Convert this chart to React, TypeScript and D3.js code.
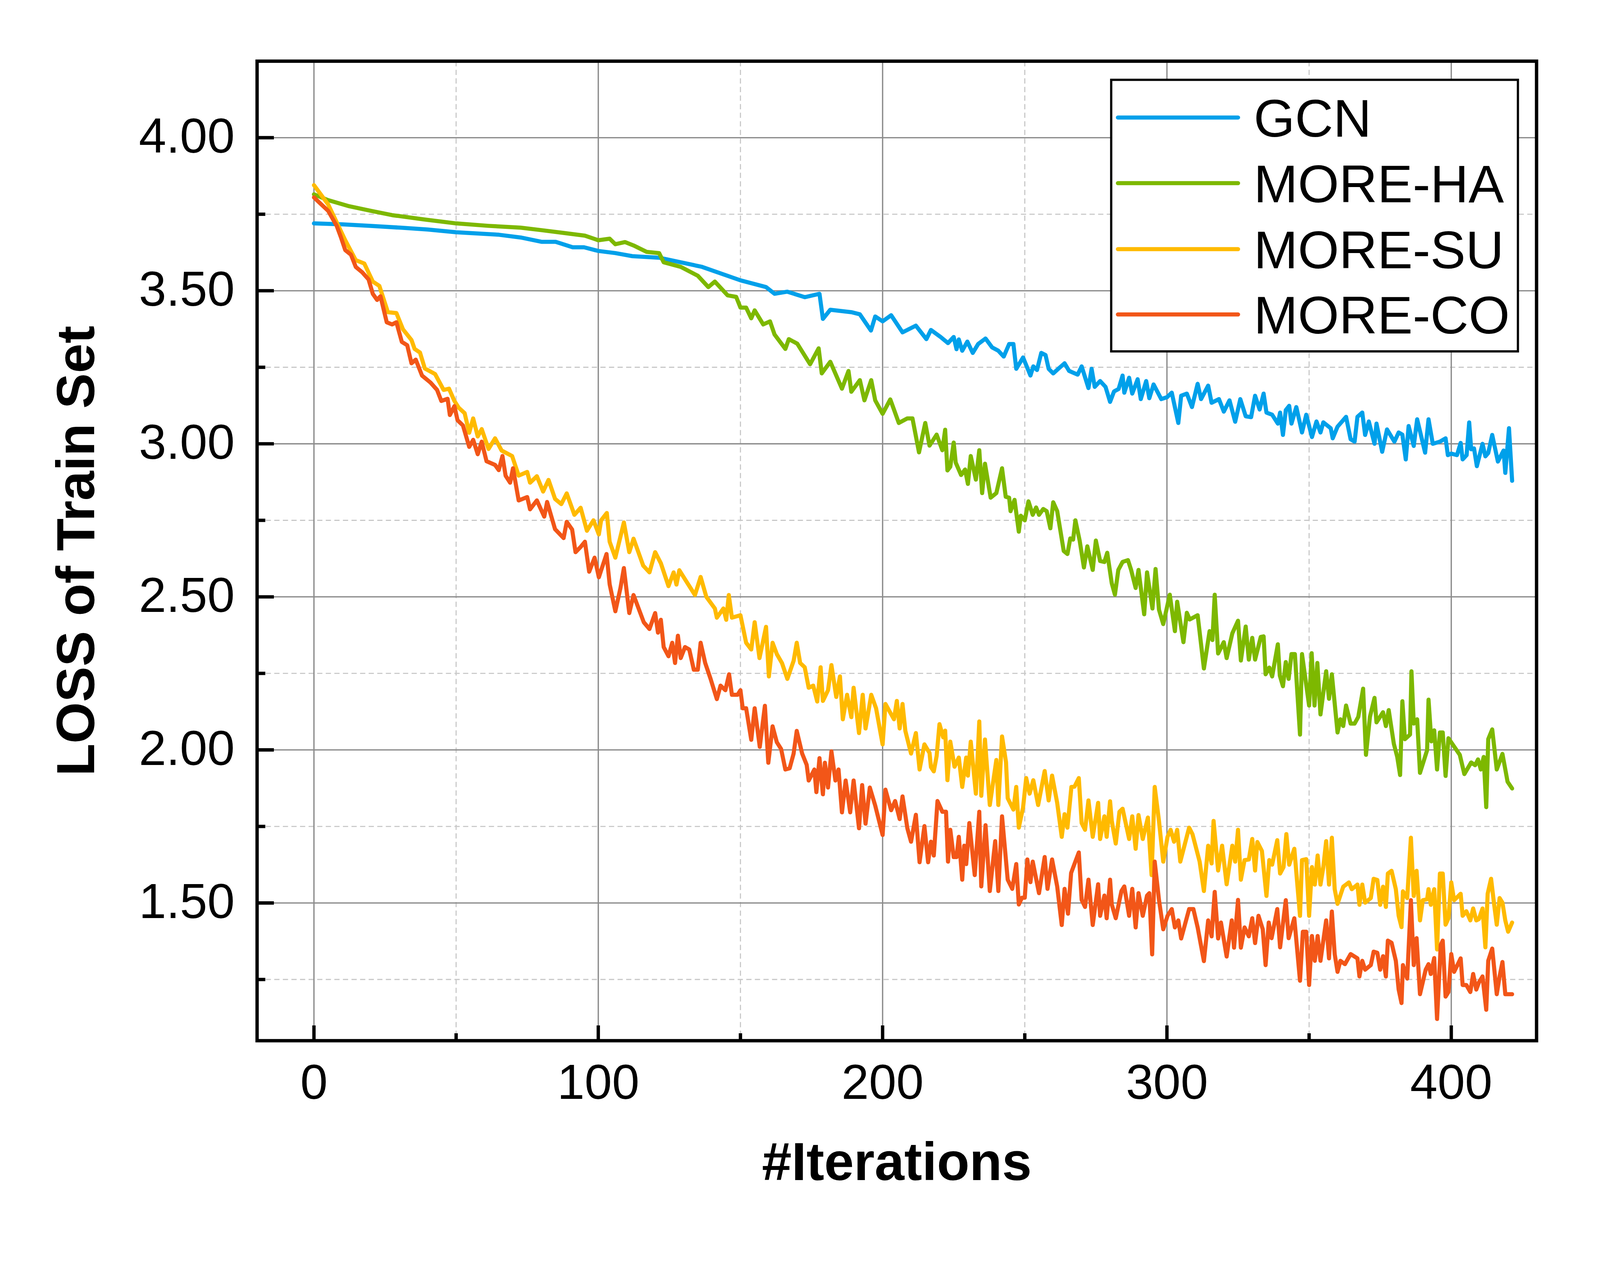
import React, { useEffect } from 'react';
import * as d3 from 'd3';

// ---------- DATA ----------
const seriesNames = ['GCN', 'MORE-HA', 'MORE-SU', 'MORE-CO'];
const seriesColors = ['#00A0EA', '#7DB800', '#FFBA00', '#F25618'];

const xMajorTicks = [0, 100, 200, 300, 400];
const xMinorTicks = [50, 150, 250, 350];
const yMajorTicks = [1.5, 2.0, 2.5, 3.0, 3.5, 4.0];
const yMinorTicks = [1.25, 1.75, 2.25, 2.75, 3.25, 3.75];

const gcn: [number, number][] = [
  [0, 3.72], [10, 3.717], [20, 3.712], [30.5, 3.706], [40, 3.7], [50, 3.691], [65, 3.683], [72.7, 3.674],
  [80, 3.66], [85, 3.66], [91, 3.642], [95, 3.642], [100, 3.63], [106, 3.623], [112, 3.613], [121.4, 3.608],
  [136.5, 3.578], [150, 3.534], [159, 3.512], [162, 3.49], [166.5, 3.497], [172.6, 3.479], [177.8, 3.49],
  [179, 3.408], [181.6, 3.438], [189, 3.43], [192, 3.423], [195.9, 3.37], [197.4, 3.416], [200, 3.4],
  [203, 3.42], [207, 3.364], [211.7, 3.386], [215.4, 3.342], [217, 3.372], [220.4, 3.349], [223, 3.329],
  [225, 3.349], [226, 3.309], [226.8, 3.341], [228, 3.304], [229.8, 3.334], [231.7, 3.297], [233.6, 3.326],
  [236.2, 3.344], [238.5, 3.315], [240.7, 3.304], [242.6, 3.285], [244.5, 3.326], [246, 3.326], [247, 3.245],
  [249.4, 3.282], [252, 3.223], [253, 3.253], [254.3, 3.241], [255.8, 3.297], [257.3, 3.29], [258.4, 3.245],
  [260, 3.23], [261.8, 3.245], [264, 3.263], [265.6, 3.238], [268.6, 3.226], [270, 3.253], [272.4, 3.182],
  [273.5, 3.245], [274.6, 3.186], [276.5, 3.205], [278.4, 3.186], [280, 3.137], [281.4, 3.171], [283, 3.179],
  [284.4, 3.223], [285, 3.167], [286.7, 3.216], [287.8, 3.164], [289.7, 3.211], [290.8, 3.146], [292.7, 3.205],
  [293.8, 3.149], [295.3, 3.194], [298, 3.146], [300, 3.152], [301.7, 3.167], [304, 3.068], [305, 3.157],
  [307, 3.164], [308.8, 3.12], [310.8, 3.196], [312, 3.146], [314.5, 3.19], [315.7, 3.134], [318.3, 3.146],
  [320, 3.105], [322, 3.142], [324, 3.072], [325.8, 3.146], [327.7, 3.09], [329.6, 3.087], [331, 3.157],
  [332.6, 3.112], [334, 3.164], [335, 3.102], [337, 3.095], [339, 3.066], [339.8, 3.102], [340.8, 3.029],
  [341.8, 3.11], [343, 3.124], [343.8, 3.066], [345.5, 3.12], [347.5, 3.037], [349, 3.095], [351, 3.022],
  [352.6, 3.073], [354, 3.037], [355, 3.07], [357.6, 3.051], [358.3, 3.018], [360, 3.056], [363, 3.088],
  [364.6, 3.015], [366, 3.007], [367, 3.088], [368.7, 3.102], [369.7, 3.029], [371, 3.073], [373, 3.0],
  [373.7, 3.066], [375.7, 2.974], [377.4, 3.047], [380, 3.007], [381.5, 3.037], [382.8, 3.03], [384, 2.949],
  [385, 3.058], [386.8, 2.993], [388, 3.08], [390.8, 2.971], [392, 3.08], [393.5, 3.0], [396, 3.007],
  [398, 3.018], [398.8, 2.963], [400, 2.968], [402, 2.963], [403.3, 3.003], [404, 2.949], [405.4, 2.963],
  [406.3, 3.07], [407, 2.982], [408, 2.985], [409, 2.927], [411, 3.0], [412, 2.959], [413, 2.97],
  [414.4, 3.029], [416.4, 2.942], [418.4, 2.978], [419, 2.905], [420.3, 3.051], [421.4, 2.879],
];

const moreHA: [number, number][] = [
  [0, 3.815], [5, 3.796], [12.4, 3.776], [20, 3.761], [27.5, 3.747], [38.8, 3.733], [50, 3.72], [61.4, 3.712],
  [72.7, 3.706], [80, 3.698], [87.8, 3.689], [95.3, 3.68], [100, 3.665], [104, 3.67], [106, 3.652],
  [109.4, 3.659], [112.4, 3.648], [117, 3.627], [121.4, 3.623], [123, 3.593], [129, 3.578], [135, 3.549],
  [138.7, 3.512], [141, 3.53], [145.5, 3.485], [148.5, 3.48], [150, 3.445], [152, 3.445], [153.8, 3.41],
  [155, 3.436], [158, 3.39], [160.4, 3.4], [162, 3.357], [165.8, 3.31], [167, 3.342], [170, 3.327],
  [174.5, 3.26], [177.5, 3.312], [178.6, 3.23], [181.6, 3.268], [185.7, 3.18], [188, 3.238], [189, 3.17],
  [192, 3.208], [193.6, 3.142], [196, 3.208], [197.4, 3.142], [200, 3.098], [202.7, 3.145], [205.7, 3.068],
  [208.7, 3.083], [210.5, 3.083], [212.8, 2.972], [215, 3.068], [216.5, 2.994], [219, 3.03], [221, 2.979],
  [222, 3.046], [222.8, 2.913], [223.8, 2.925], [225, 3.004], [225.7, 2.939], [227.6, 2.898], [229, 2.916],
  [230, 2.869], [231, 2.96], [232.8, 2.883], [234, 2.979], [235, 2.839], [236, 2.935], [238, 2.824],
  [240, 2.839], [242, 2.92], [243.3, 2.827], [244.5, 2.824], [245, 2.78], [246.4, 2.817], [247.9, 2.713],
  [248.6, 2.765], [250, 2.75], [251.3, 2.812], [252.8, 2.768], [254, 2.792], [255, 2.768], [256.5, 2.787],
  [257.7, 2.78], [259, 2.724], [260, 2.809], [261.4, 2.78], [263.7, 2.65], [265, 2.64], [266, 2.691],
  [267, 2.687], [267.8, 2.75], [269.3, 2.684], [270.8, 2.596], [272, 2.665], [273.9, 2.588], [275, 2.684],
  [276.5, 2.617], [278, 2.614], [279, 2.644], [280.6, 2.544], [281.7, 2.507], [282.9, 2.588], [284.4, 2.614],
  [286.3, 2.62], [287.4, 2.588], [289, 2.529], [290, 2.588], [292, 2.443], [293, 2.58], [294.9, 2.462],
  [296, 2.591], [297.2, 2.458], [298.7, 2.411], [301, 2.507], [302.8, 2.388], [303.6, 2.484], [305.8, 2.352],
  [307, 2.448], [308, 2.426], [310.8, 2.44], [313, 2.266], [315, 2.388], [316, 2.359], [316.8, 2.507],
  [318, 2.315], [320, 2.352], [321, 2.3], [323, 2.381], [325, 2.422], [326, 2.292], [327.7, 2.403],
  [328.8, 2.295], [330, 2.366], [331, 2.295], [333, 2.369], [334, 2.371], [334.7, 2.247], [336, 2.269],
  [337, 2.24], [339, 2.345], [339.7, 2.243], [340.8, 2.208], [341.8, 2.287], [342.8, 2.232], [343.8, 2.313],
  [345, 2.313], [346.8, 2.05], [347.5, 2.313], [350, 2.145], [350.9, 2.316], [351.9, 2.145], [352.9, 2.284],
  [354, 2.116], [356, 2.257], [357, 2.167], [358, 2.247], [360, 2.057], [361, 2.1], [362, 2.078], [363, 2.145],
  [364.6, 2.086], [366, 2.086], [367.3, 2.108], [369, 2.2], [370, 1.984], [371.4, 2.108], [373, 2.17],
  [373.7, 2.09], [376, 2.123], [377, 2.078], [378, 2.13], [379.8, 2.02], [381, 1.977], [382, 1.918],
  [382.8, 2.159], [383.7, 2.035], [385.5, 2.05], [386, 2.257], [386.8, 2.086], [388, 2.1], [389, 1.925],
  [391.5, 1.999], [392, 2.164], [393, 2.028], [394, 2.064], [395, 1.936], [396, 2.057], [397, 2.057],
  [398, 1.915], [399, 2.038], [403, 1.984], [404.6, 1.921], [407, 1.959], [408.4, 1.95], [409.4, 1.969],
  [410.4, 1.936], [411.4, 1.977], [412.3, 1.813], [413, 2.035], [414.4, 2.067], [416, 1.936], [418, 1.987],
  [419.8, 1.896], [421.4, 1.874],
];

const moreSU: [number, number][] = [
  [0, 3.845], [5, 3.782], [11, 3.665], [14.7, 3.6], [17.7, 3.589], [20.7, 3.53], [23, 3.516], [26, 3.43],
  [29, 3.427], [31.3, 3.374], [34.3, 3.339], [35.4, 3.31], [37.3, 3.298], [39, 3.246], [42.6, 3.228],
  [45.6, 3.176], [47.5, 3.18], [49.4, 3.14], [50.9, 3.118], [53, 3.1], [54.6, 3.036], [56, 3.083],
  [57.6, 3.024], [59, 3.048], [61.4, 2.983], [63.7, 3.018], [66, 2.978], [69.7, 2.96], [72, 2.896],
  [75, 2.908], [76, 2.873], [78.4, 2.894], [80.6, 2.844], [82.5, 2.882], [84.8, 2.82], [87, 2.803],
  [88.9, 2.838], [91.6, 2.768], [93.8, 2.791], [96, 2.716], [98.3, 2.75], [100.2, 2.704], [101, 2.75],
  [103, 2.774], [104, 2.68], [106, 2.628], [109, 2.743], [110.9, 2.646], [112.4, 2.69], [115.8, 2.602],
  [118, 2.58], [120, 2.646], [122, 2.61], [124.7, 2.535], [126.5, 2.58], [127.5, 2.54], [128.5, 2.587],
  [131, 2.55], [134, 2.506], [136, 2.565], [138, 2.5], [141, 2.462], [141.7, 2.432], [144, 2.462],
  [145, 2.425], [145.9, 2.506], [147, 2.432], [150, 2.44], [152, 2.35], [153.8, 2.328], [155, 2.417],
  [156.7, 2.3], [159, 2.402], [160, 2.24], [161.3, 2.35], [162.8, 2.313], [164.6, 2.284], [166.5, 2.232],
  [168.7, 2.291], [169.8, 2.35], [171, 2.284], [172.6, 2.27], [174, 2.203], [175.6, 2.21], [177, 2.158],
  [178.2, 2.27], [179, 2.16], [180.8, 2.195], [182, 2.277], [183.7, 2.173], [185, 2.24], [186, 2.1],
  [187.5, 2.18], [189, 2.107], [189.8, 2.203], [191.7, 2.055], [193, 2.18], [194, 2.07], [196, 2.18],
  [197.7, 2.136], [200, 2.018], [201, 2.15], [204, 2.1], [205, 2.16], [206, 2.07], [207, 2.15], [208, 2.062],
  [210, 1.988], [211.7, 2.055], [213, 1.936], [214.7, 2.018], [216.5, 1.99], [217, 1.944], [218, 1.93],
  [219, 1.98], [220, 2.084], [221.3, 2.041], [222, 2.063], [222.8, 1.901], [223.8, 2.027], [225.3, 1.945],
  [226.8, 1.975], [228, 1.879], [229.4, 1.975], [230, 1.916], [231, 2.027], [232.8, 1.857], [234, 2.093],
  [234.7, 1.85], [236, 2.034], [237.7, 1.82], [240, 1.967], [240.7, 1.82], [242, 2.044], [243.4, 1.96],
  [244, 1.842], [246, 1.805], [247, 1.879], [247.9, 1.746], [249.4, 1.812], [250.5, 1.908], [251.7, 1.857],
  [253, 1.901], [254.7, 1.82], [257, 1.931], [258.4, 1.835], [259.6, 1.916], [261.4, 1.827], [263, 1.716],
  [264, 1.79], [265, 1.746], [266.4, 1.879], [267.5, 1.88], [269, 1.908], [270, 1.761], [271.2, 1.739],
  [272.4, 1.835], [273.9, 1.716], [275.8, 1.827], [276.5, 1.709], [278, 1.783], [278.8, 1.716], [280, 1.832],
  [280.6, 1.768], [282, 1.694], [283.3, 1.798], [284.4, 1.808], [286.7, 1.709], [287.8, 1.783], [289, 1.677],
  [290, 1.787], [291.5, 1.709], [293.3, 1.779], [294.6, 1.591], [295.7, 1.879], [297.2, 1.768], [298.7, 1.635],
  [300.2, 1.716], [301.3, 1.739], [302.5, 1.7], [303.6, 1.739], [304.7, 1.635], [307.8, 1.746], [309, 1.724],
  [311.5, 1.635], [313, 1.539], [314.5, 1.687], [315.7, 1.629], [316.4, 1.768], [318, 1.606], [319.4, 1.687],
  [321, 1.561], [323, 1.687], [324, 1.635], [325, 1.739], [326, 1.576], [327.3, 1.64], [328.8, 1.642],
  [330, 1.709], [331, 1.606], [331.8, 1.699], [333.4, 1.67], [335, 1.523], [336, 1.64], [337, 1.625],
  [338.8, 1.705], [339.8, 1.596], [341, 1.617], [342, 1.725], [343, 1.625], [344.8, 1.677], [346.8, 1.458],
  [347.5, 1.64], [349, 1.643], [350, 1.458], [351, 1.617], [352, 1.56], [353, 1.655], [354, 1.56],
  [355, 1.617], [356, 1.702], [357, 1.56], [358, 1.713], [359, 1.545], [360, 1.497], [362, 1.553],
  [364, 1.567], [365, 1.545], [367, 1.56], [367.7, 1.494], [368.7, 1.56], [369.7, 1.501], [371.7, 1.516],
  [372.7, 1.579], [374, 1.575], [375, 1.494], [376, 1.553], [377, 1.487], [377.7, 1.596], [379, 1.605],
  [380.5, 1.545], [381.5, 1.458], [382.5, 1.421], [383, 1.538], [384.5, 1.516], [385.8, 1.713], [386.8, 1.523],
  [387.8, 1.605], [389, 1.443], [390, 1.509], [391.5, 1.512], [392, 1.545], [392.8, 1.494], [394, 1.545],
  [395, 1.348], [396, 1.596], [397, 1.596], [398, 1.429], [399, 1.45], [400, 1.567], [401, 1.509],
  [403.3, 1.53], [404, 1.458], [405.3, 1.473], [406.7, 1.443], [407.7, 1.482], [408.8, 1.443], [409.7, 1.447],
  [411, 1.482], [412, 1.355], [412.8, 1.53], [414, 1.579], [415, 1.501], [416, 1.429], [417, 1.516],
  [418, 1.501], [419, 1.443], [420, 1.406], [421.4, 1.436],
];

const moreCO: [number, number][] = [
  [0, 3.805], [1.9, 3.788], [5, 3.761], [8, 3.712], [9.4, 3.677], [11, 3.633], [13, 3.618], [14.7, 3.578],
  [17, 3.56], [19.2, 3.537], [20.7, 3.49], [22.2, 3.47], [23.4, 3.482], [25.6, 3.397], [27.5, 3.39],
  [29, 3.397], [30.9, 3.333], [32.8, 3.322], [34.3, 3.263], [35.8, 3.275], [38, 3.223], [41, 3.2],
  [43.3, 3.176], [44.8, 3.14], [47, 3.147], [47.8, 3.094], [49.4, 3.123], [50.5, 3.077], [52.4, 3.06],
  [54.6, 2.99], [56, 3.013], [57.6, 2.966], [59, 3.007], [60.7, 2.943], [63.7, 2.931], [65, 2.914],
  [66.3, 2.96], [67.4, 2.896], [69, 2.873], [70, 2.92], [72, 2.815], [75, 2.826], [76, 2.786], [78.4, 2.815],
  [81, 2.762], [82, 2.81], [84.8, 2.721], [87.8, 2.692], [88.9, 2.745], [90.8, 2.72], [92, 2.646],
  [93.8, 2.663], [95.3, 2.68], [96.8, 2.582], [98.7, 2.628], [100.2, 2.564], [102.9, 2.64], [104, 2.541],
  [106, 2.453], [107.8, 2.529], [109, 2.594], [110.9, 2.447], [112.4, 2.506], [116, 2.417], [118, 2.395],
  [120, 2.447], [121, 2.383], [122, 2.425], [123, 2.336], [124.7, 2.306], [126, 2.35], [127, 2.284],
  [128, 2.373], [129, 2.3], [130.5, 2.336], [132, 2.328], [133.6, 2.262], [135, 2.262], [136, 2.35],
  [137.6, 2.284], [139.5, 2.232], [141.7, 2.166], [143, 2.21], [144.7, 2.195], [146, 2.247], [147, 2.18],
  [149, 2.18], [150, 2.195], [150.8, 2.136], [152, 2.136], [153.8, 2.033], [155, 2.136], [156.8, 2.01],
  [158.6, 2.144], [159.8, 1.958], [161.3, 2.077], [162.8, 2.025], [164.3, 2.003], [165.8, 1.936],
  [167.3, 1.94], [168.7, 1.988], [169.8, 2.062], [171.7, 1.988], [173.3, 1.951], [174, 1.9], [176, 1.936],
  [176.7, 1.862], [177.8, 1.973], [179, 1.855], [179.7, 1.958], [180.8, 1.877], [182, 1.995], [183.4, 1.9],
  [184.5, 1.936], [185.7, 1.796], [187, 1.9], [188.6, 1.796], [189.8, 1.9], [191.7, 1.744], [192.8, 1.885],
  [194, 1.759], [195.5, 1.877], [197.4, 1.818], [200, 1.722], [201, 1.87], [203, 1.803], [204.4, 1.833],
  [206, 1.774], [207, 1.848], [208.7, 1.744], [210, 1.7], [211.7, 1.788], [213, 1.633], [214.7, 1.751],
  [216, 1.633], [217, 1.7], [218, 1.655], [219.3, 1.833], [221, 1.798], [222.3, 1.798], [223, 1.635],
  [223.8, 1.739], [225, 1.65], [226, 1.65], [226.8, 1.716], [228, 1.576], [228.7, 1.687], [229.4, 1.627],
  [230.5, 1.761], [232.4, 1.591], [234, 1.798], [234.7, 1.554], [236.2, 1.754], [237.7, 1.539],
  [239.6, 1.702], [240.7, 1.539], [242, 1.783], [244, 1.576], [245.6, 1.546], [247, 1.627], [247.9, 1.495],
  [249, 1.517], [250, 1.517], [250.9, 1.642], [252, 1.568], [252.8, 1.635], [255, 1.532], [257, 1.65],
  [258, 1.546], [259.6, 1.642], [261.4, 1.554], [263, 1.428], [264, 1.546], [265.2, 1.465], [266.3, 1.598],
  [267.5, 1.628], [269, 1.665], [270, 1.51], [271.2, 1.487], [272.4, 1.576], [273.9, 1.428], [275.8, 1.561],
  [276.5, 1.458], [278, 1.524], [278.8, 1.45], [280, 1.576], [280.6, 1.495], [282, 1.45], [284, 1.539],
  [285, 1.554], [286.7, 1.458], [287.8, 1.546], [289, 1.42], [290, 1.532], [291.5, 1.458], [293, 1.524],
  [293.8, 1.532], [294.8, 1.332], [295.7, 1.635], [297.2, 1.51], [298.7, 1.414], [300.2, 1.458],
  [301.7, 1.48], [302.8, 1.42], [304, 1.443], [305, 1.384], [307.8, 1.48], [309.3, 1.48], [310.8, 1.42],
  [313, 1.31], [314.5, 1.443], [315.7, 1.391], [316.8, 1.536], [318, 1.384], [319, 1.436], [321, 1.325],
  [322.8, 1.443], [323.6, 1.354], [325, 1.51], [326, 1.354], [327.3, 1.42], [328.8, 1.391], [330, 1.45],
  [331, 1.369], [332.2, 1.458], [333.7, 1.414], [334.7, 1.297], [335.8, 1.436], [336.8, 1.385],
  [338.8, 1.48], [339.8, 1.355], [341.8, 1.509], [342.8, 1.385], [344.8, 1.45], [346.8, 1.246],
  [347.8, 1.406], [349, 1.406], [350, 1.232], [351, 1.392], [352, 1.311], [353, 1.392], [354, 1.311],
  [356, 1.443], [357, 1.319], [358, 1.472], [359, 1.333], [360, 1.275], [361, 1.311], [362.6, 1.3],
  [364.6, 1.333], [367, 1.319], [367.7, 1.26], [368.7, 1.311], [369.7, 1.282], [371.7, 1.297],
  [372.7, 1.341], [374, 1.337], [375, 1.282], [376, 1.326], [377, 1.26], [377.7, 1.377], [379, 1.37],
  [380.5, 1.311], [381.5, 1.217], [382.5, 1.173], [383, 1.297], [384.5, 1.253], [385.8, 1.509],
  [386.8, 1.297], [387.8, 1.385], [389, 1.202], [391, 1.282], [392, 1.3], [392.8, 1.268], [394, 1.32],
  [395, 1.121], [396.3, 1.363], [397, 1.377], [398, 1.194], [399, 1.209], [400, 1.333], [401, 1.275],
  [403.3, 1.319], [404, 1.232], [405.3, 1.232], [406.7, 1.209], [407.7, 1.268], [408.8, 1.217],
  [409.7, 1.24], [411, 1.26], [412.3, 1.151], [413, 1.311], [414.4, 1.351], [416, 1.202], [417, 1.26],
  [418, 1.307], [419, 1.202], [421.4, 1.202],
];

const allSeries = [gcn, moreHA, moreSU, moreCO];

// ---------- LAYOUT ----------
const W = 4288;
const H = 3283;
const PL = 689, PR = 4118, PT = 164, PB = 2790;
const FONT = '"Liberation Sans", Arial, Helvetica, sans-serif';

export default function App() {
  useEffect(() => {
    document.body.style.margin = '0';
    document.body.style.overflow = 'hidden';
    document.documentElement.style.overflow = 'hidden';
  }, []);

  const x = d3.scaleLinear().domain([-20, 430]).range([PL, PR]);
  const y = d3.scaleLinear().domain([1.05, 4.25]).range([PB, PT]);
  const line = d3
    .line<[number, number]>()
    .x((d) => x(d[0]))
    .y((d) => y(d[1]));

  const legendX = 2978, legendY = 214, legendW = 1090, legendH = 728;
  const legendRows = [315, 491, 668, 843];

  return (
    <svg
      viewBox={`0 0 ${W} ${H}`}
      preserveAspectRatio="xMinYMin meet"
      style={{ position: 'fixed', left: 0, top: 0, width: '100vw', height: '100vh', background: '#fff', display: 'block' }}
      fontFamily={FONT}
    >
      <rect x={0} y={0} width={W} height={H} fill="#fff" />
      {/* minor grid */}
      {xMinorTicks.map((t) => (
        <line key={'xm' + t} x1={x(t)} x2={x(t)} y1={PT} y2={PB} stroke="#c8c8c8" strokeWidth={3} strokeDasharray="14,9" />
      ))}
      {yMinorTicks.map((t) => (
        <line key={'ym' + t} x1={PL} x2={PR} y1={y(t)} y2={y(t)} stroke="#c8c8c8" strokeWidth={3} strokeDasharray="14,9" />
      ))}
      {/* major grid */}
      {xMajorTicks.map((t) => (
        <line key={'xg' + t} x1={x(t)} x2={x(t)} y1={PT} y2={PB} stroke="#8c8c8c" strokeWidth={3.5} />
      ))}
      {yMajorTicks.map((t) => (
        <line key={'yg' + t} x1={PL} x2={PR} y1={y(t)} y2={y(t)} stroke="#8c8c8c" strokeWidth={3.5} />
      ))}

      {/* data lines */}
      {allSeries.map((s, i) => (
        <path
          key={seriesNames[i]}
          d={line(s) || ''}
          fill="none"
          stroke={seriesColors[i]}
          strokeWidth={11}
          strokeLinejoin="round"
          strokeLinecap="round"
        />
      ))}

      {/* ticks */}
      {xMajorTicks.map((t) => (
        <line key={'xt' + t} x1={x(t)} x2={x(t)} y1={PB} y2={PB - 41} stroke="#000" strokeWidth={9} />
      ))}
      {xMinorTicks.map((t) => (
        <line key={'xmt' + t} x1={x(t)} x2={x(t)} y1={PB} y2={PB - 20} stroke="#000" strokeWidth={9} />
      ))}
      {yMajorTicks.map((t) => (
        <line key={'yt' + t} x1={PL} x2={PL + 45} y1={y(t)} y2={y(t)} stroke="#000" strokeWidth={9} />
      ))}
      {yMinorTicks.map((t) => (
        <line key={'ymt' + t} x1={PL} x2={PL + 22} y1={y(t)} y2={y(t)} stroke="#000" strokeWidth={9} />
      ))}

      {/* frame */}
      <rect x={PL} y={PT} width={PR - PL} height={PB - PT} fill="none" stroke="#000" strokeWidth={9} />

      {/* tick labels */}
      {xMajorTicks.map((t) => (
        <text key={'xl' + t} x={x(t)} y={2946} fontSize={132} textAnchor="middle" fill="#000">
          {String(t)}
        </text>
      ))}
      {yMajorTicks.map((t) => (
        <text key={'yl' + t} x={629} y={y(t) + 40} fontSize={132} textAnchor="end" fill="#000">
          {t.toFixed(2)}
        </text>
      ))}

      {/* axis titles */}
      <text x={(PL + PR) / 2} y={3164} fontSize={143} fontWeight="bold" textAnchor="middle" fill="#000">
        #Iterations
      </text>
      <text
        transform={`translate(252, ${(PT + PB) / 2}) rotate(-90)`}
        fontSize={143}
        fontWeight="bold"
        textAnchor="middle"
        fill="#000"
      >
        LOSS of Train Set
      </text>

      {/* legend */}
      <rect x={legendX} y={legendY} width={legendW} height={legendH} fill="#fff" stroke="#000" strokeWidth={6} />
      {seriesNames.map((n, i) => (
        <g key={'lg' + n}>
          <line
            x1={2996}
            x2={3318}
            y1={legendRows[i]}
            y2={legendRows[i]}
            stroke={seriesColors[i]}
            strokeWidth={11}
            strokeLinecap="round"
          />
          <text x={3360} y={legendRows[i] + 51} fontSize={142} fill="#000">
            {n}
          </text>
        </g>
      ))}
    </svg>
  );
}
